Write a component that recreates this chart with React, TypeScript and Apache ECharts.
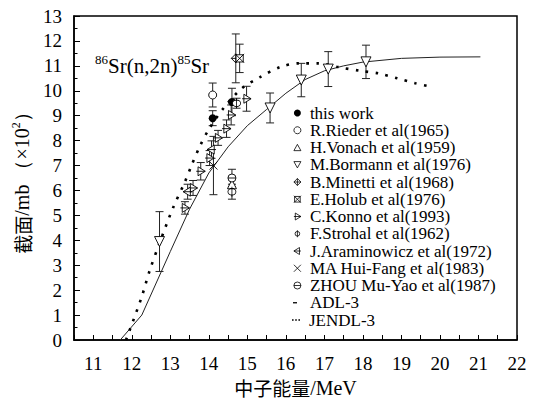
import React, { useEffect, useRef } from "react";
import * as echarts from "echarts";

// [energy MeV, cross section (x100 mb), error]
const thisWork = [[14.1, 8.9, 0.3], [14.6, 9.55, 0.55]];
const rieder = [[14.1, 9.83, 0.48]];
const vonach = [[14.6, 6.25, 0.3]];
const bormann = [[12.72, 3.95, 1.2], [15.59, 9.31, 0.6], [16.4, 10.43, 0.67], [17.1, 10.87, 0.7], [18.08, 11.16, 0.67]];
const minetti = [[14.7, 11.3, 0.98]];
const holub = [[14.8, 11.3, 0.57]];
const konno = [[13.38, 5.3, 0.25], [13.59, 6.1, 0.3], [13.79, 6.77, 0.35], [14.02, 7.3, 0.3], [14.24, 8.11, 0.3], [14.46, 8.48, 0.35], [14.58, 9.03, 0.4], [14.98, 9.68, 0.5]];
const strohal = [[14.6, 5.95, 0.3], [14.72, 9.5, 0.2]];
const araminowicz = [[13.45, 5.95, 0.3], [14.07, 7.64, 0.35]];
const maHuiFang = [[14.12, 7.0, 1.17]];
const zhou = [[14.6, 6.5, 0.35]];

const adl3 = [[11.7, 0], [12.26, 1.0], [13.0, 3.55], [13.5, 5.25], [14.0, 6.7], [14.5, 7.75], [15.0, 8.6], [15.5, 9.25], [16.0, 9.9], [16.5, 10.45], [17.0, 10.8], [17.5, 11.0], [18.0, 11.15], [19.0, 11.3], [20.0, 11.35], [21.05, 11.36]];
const jendl3 = [[11.85, 0], [12.24, 1.65], [12.47, 2.81], [12.73, 3.93], [13.07, 5.3], [13.38, 6.35], [13.55, 7.0], [13.76, 7.75], [14.0, 8.45], [14.4, 9.34], [14.86, 10.1], [15.33, 10.55], [15.85, 10.95], [16.32, 11.1], [16.84, 11.1], [17.36, 10.95], [17.93, 10.8], [18.4, 10.7], [18.89, 10.5], [19.36, 10.3], [19.82, 10.15]];

const expNames = [
  "this work", "R.Rieder et al(1965)", "H.Vonach et al(1959)", "M.Bormann et al(1976)",
  "B.Minetti et al(1968)", "E.Holub et al(1976)", "C.Konno et al(1993)", "F.Strohal et al(1962)",
  "J.Araminowicz et al(1972)", "MA Hui-Fang et al(1983)", "ZHOU Mu-Yao et al(1987)",
];

const SERIF = "Liberation Serif";
const CJK = "Noto Sans CJK SC";

const expData = [thisWork, rieder, vonach, bormann, minetti, holub, konno, strohal, araminowicz, maHuiFang, zhou];
const expSymbols = [
  "circle",
  "circle",
  "path://M5,0L10,9L0,9Z",
  "path://M0,0L10,0L5,9Z",
  "path://M5,0L10,5L5,10L0,5Z M5,0L5,10 M0,5L10,5",
  "path://M1,1L9,1L9,9L1,9Z M0,0L10,10 M10,0L0,10",
  "path://M2,0L10,5L2,10Z M0,5L10,5",
  "path://M9,6A4,4 0 1 1 1,6A4,4 0 1 1 9,6Z M5,0L5,12",
  "path://M8,0L0,5L8,10Z M0,5L10,5",
  "path://M0,0L10,10M10,0L0,10",
  "path://M10,5A5,5 0 1 1 0,5A5,5 0 1 1 10,5Z M0,5L10,5",
];
const expSizes = [8, 8, 9, 10, 9, 9, 9, [8, 10], 9, 8, 8];

const ROW = 17.25;
const LEG_FS = 17;
const LEG_TOP = 104.5;

export default function App() {
  const ref = useRef<HTMLDivElement>(null);
  useEffect(() => {
    const chart = echarts.init(ref.current!, null, { renderer: "svg" });
    const errData: number[][] = [];
    expData.forEach((arr) => arr.forEach((p) => errData.push([p[0], p[1] - p[2], p[1] + p[2]])));

    const scatterSeries = expNames.map((name, i) => ({
      name,
      type: "scatter",
      data: expData[i].map((p) => [p[0], p[1]]),
      symbol: expSymbols[i],
      symbolSize: expSizes[i],
      z: 3,
      itemStyle: {
        color: i === 0 ? "#000" : "#fff",
        borderColor: "#000",
        borderWidth: i === 0 ? 0 : 0.9,
        opacity: 1,
      },
    }));

    const legText = { fontFamily: SERIF, fontSize: LEG_FS, color: "#000" };

    const option: any = {
      animation: false,
      backgroundColor: "#fff",
      textStyle: { fontFamily: SERIF },
      grid: { left: 74, right: 17, top: 16, bottom: 63, show: true, borderColor: "#000", borderWidth: 1.5 },
      xAxis: {
        type: "value",
        min: 10.5,
        max: 22,
        interval: 0.5,
        name: "{c|中子能量}{t|/MeV}",
        nameLocation: "middle",
        nameGap: 35,
        nameTextStyle: {
          rich: {
            c: { fontFamily: CJK, fontSize: 19, color: "#000" },
            t: { fontFamily: SERIF, fontSize: 20, color: "#000" },
          },
        },
        axisLine: { lineStyle: { color: "#000", width: 1.5 } },
        axisTick: { inside: true, length: 5, lineStyle: { color: "#000", width: 1 } },
        axisLabel: {
          margin: 14,
          fontFamily: SERIF,
          fontSize: 19,
          color: "#000",
          formatter: (v: number) => (Math.abs(v - Math.round(v)) < 1e-6 ? String(Math.round(v)) : ""),
        },
        splitLine: { show: false },
      },
      yAxis: {
        type: "value",
        min: 0,
        max: 13,
        interval: 1,
        name: "{c|截面}{t|/mb （×10}{s|2}{t|）}",
        nameLocation: "middle",
        nameGap: 36,
        nameTextStyle: {
          rich: {
            c: { fontFamily: CJK, fontSize: 19, color: "#000", lineHeight: 24 },
            t: { fontFamily: SERIF, fontSize: 20, color: "#000", lineHeight: 24 },
            s: { fontFamily: SERIF, fontSize: 12, color: "#000", verticalAlign: "top", lineHeight: 14 },
          },
        },
        axisLine: { lineStyle: { color: "#000", width: 1.5 } },
        axisTick: { inside: true, length: 6, lineStyle: { color: "#000", width: 1 } },
        minorTick: { show: true, splitNumber: 2, length: 3.5, lineStyle: { color: "#000", width: 1 } },
        axisLabel: { margin: 12, fontFamily: SERIF, fontSize: 19, color: "#000" },
        splitLine: { show: false },
      },
      legend: [
        {
          orient: "vertical",
          left: 293.5,
          top: LEG_TOP,
          padding: 0,
          itemWidth: 7,
          itemHeight: 7,
          itemGap: ROW - LEG_FS,
          data: expNames.map((name, i) => ({
            name,
            itemStyle: {
              color: i === 0 ? "#000" : "#fff",
              borderColor: "#000",
              borderWidth: i === 0 ? 0 : 0.8,
            },
          })),
          textStyle: { ...legText, padding: [0, 0, 0, 4] },
        },
        {
          orient: "vertical",
          left: 293,
          top: LEG_TOP + 11 * ROW,
          padding: 0,
          itemWidth: 4,
          itemHeight: 1.3,
          data: [{ name: "ADL-3", icon: "rect" }],
          textStyle: { ...legText, padding: [0, 0, 0, 8] },
        },
        {
          orient: "vertical",
          left: 292,
          top: LEG_TOP + 12 * ROW,
          padding: 0,
          itemWidth: 10,
          itemHeight: 1.6,
          data: [{ name: "JENDL-3", icon: "path://M0,0h2v2h-2Z M4,0h2v2h-2Z M8,0h2v2h-2Z" }],
          textStyle: { ...legText, padding: [0, 0, 0, 3] },
        },
      ],
      graphic: [
        {
          type: "text",
          left: 95,
          top: 53,
          style: {
            text: "{s|86}{n|Sr(n,2n)}{s|85}{n|Sr}",
            rich: {
              n: { fontFamily: SERIF, fontSize: 21, fill: "#000", lineHeight: 25 },
              s: { fontFamily: SERIF, fontSize: 13, fill: "#000", verticalAlign: "top", lineHeight: 14 },
            },
          },
        },
      ],
      series: [
        {
          name: "errorbars",
          type: "custom",
          data: errData,
          encode: { x: 0, y: [1, 2] },
          z: 1,
          silent: true,
          renderItem: (_params: any, api: any) => {
            const x = api.value(0);
            const a = api.coord([x, api.value(2)]);
            const b = api.coord([x, api.value(1)]);
            const w = 4;
            const st = { stroke: "#222", lineWidth: 1 };
            return {
              type: "group",
              children: [
                { type: "line", shape: { x1: a[0], y1: a[1], x2: b[0], y2: b[1] }, style: st },
                { type: "line", shape: { x1: a[0] - w, y1: a[1], x2: a[0] + w, y2: a[1] }, style: st },
                { type: "line", shape: { x1: b[0] - w, y1: b[1], x2: b[0] + w, y2: b[1] }, style: st },
              ],
            };
          },
        },
        {
          name: "ADL-3",
          type: "line",
          data: adl3,
          symbol: "none",
          z: 2,
          lineStyle: { color: "#222", width: 1 },
          itemStyle: { color: "#000" },
        },
        {
          name: "JENDL-3",
          type: "line",
          data: jendl3,
          symbol: "none",
          smooth: 0.3,
          z: 2,
          lineStyle: { color: "#000", width: 2.6, type: [2.6, 7.4] },
          itemStyle: { color: "#000" },
        },
        ...scatterSeries,
      ],
    };
    chart.setOption(option);
    return () => chart.dispose();
  }, []);
  return <div ref={ref} style={{ position: "fixed", left: 0, top: 0, width: 534, height: 403 }} />;
}
